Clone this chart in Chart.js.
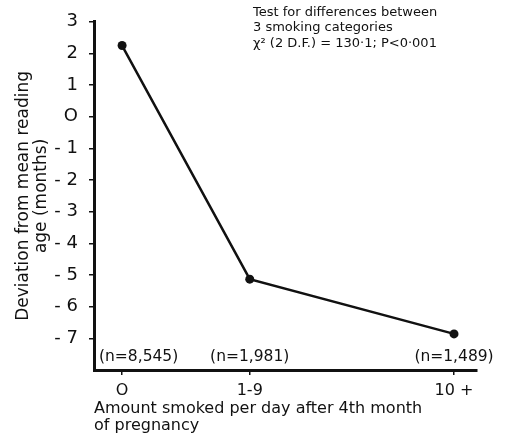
<!DOCTYPE html>
<html>
<head>
<meta charset="utf-8">
<script src="https://cdn.jsdelivr.net/npm/chart.js@4.4.1/dist/chart.umd.min.js"></script>
<style>
  html, body { margin: 0; padding: 0; background: #fff; }
  #wrap { width: 505px; height: 435px; }
</style>
</head>
<body>
<div id="wrap"><canvas id="chart"></canvas></div>
<script>
// Reading age deviation by amount smoked during pregnancy.
const categories = ['O', '1-9', '10 +'];
const categoryPositions = [0, 5, 13];
const deviations = [2.25, -5.13, -6.86];
const sampleSizes = ['(n=8,545)', '(n=1,981)', '(n=1,489)'];
const yTicks = [3, 2, 1, 0, -1, -2, -3, -4, -5, -6, -7];
const yTickLabels = ['3', '2', '1', 'O', '- 1', '- 2', '- 3', '- 4', '- 5', '- 6', '- 7'];
const noteLines = [
  'Test for differences between',
  '3 smoking categories',
  'χ² (2 D.F.) = 130·1; P<0·001'
];

const ink = '#111';
const family = '"DejaVu Sans", sans-serif';

const annotations = {
  id: 'annotations',
  afterDatasetsDraw(chart) {
    const { ctx, chartArea, scales } = chart;
    ctx.save();
    ctx.fillStyle = ink;
    ctx.textBaseline = 'middle';

    // sample sizes along the bottom of the plot
    ctx.font = '15.5px ' + family;
    ctx.textAlign = 'center';
    const yPix = scales.y.getPixelForValue(-7.6);
    sampleSizes.forEach((label, i) => {
      const w = ctx.measureText(label).width;
      let cx = scales.x.getPixelForValue(categoryPositions[i]);
      cx = Math.max(cx, chartArea.left + 5 + w / 2);
      ctx.fillText(label, cx, yPix);
    });

    // test statistic note at the top right
    ctx.textAlign = 'left';
    ctx.font = '13px ' + family;
    noteLines.forEach((line, i) => {
      ctx.fillText(line, 253, 12.5 + i * 15.5);
    });
    ctx.restore();
  }
};

new Chart(document.getElementById('chart'), {
  type: 'line',
  data: {
    datasets: [{
      data: categoryPositions.map((x, i) => ({ x, y: deviations[i] })),
      borderColor: ink,
      backgroundColor: ink,
      borderWidth: 2.5,
      pointRadius: 4.5,
      pointBackgroundColor: ink,
      pointBorderWidth: 0,
      tension: 0
    }]
  },
  options: {
    responsive: true,
    maintainAspectRatio: false,
    animation: false,
    events: [],
    layout: { padding: { top: 19, right: 28, left: 0, bottom: 0 } },
    plugins: {
      legend: { display: false },
      tooltip: { enabled: false }
    },
    scales: {
      x: {
        type: 'linear',
        min: -1.1,
        max: 13.9,
        afterBuildTicks(scale) {
          scale.ticks = categoryPositions.map(v => ({ value: v }));
        },
        afterFit(scale) { scale.height = 65; },
        border: { display: true, color: ink, width: 3 },
        grid: { drawOnChartArea: false, drawTicks: true, tickLength: 5, color: ink, lineWidth: 1.5 },
        ticks: {
          autoSkip: false,
          maxRotation: 0,
          padding: 6,
          color: ink,
          font: { family, size: 16 },
          callback: (v, i) => categories[i]
        },
        title: {
          display: true,
          align: 'start',
          text: ['Amount smoked per day after 4th month', 'of pregnancy'],
          color: ink,
          font: { family, size: 16, lineHeight: 1.05 },
          padding: { top: 0, bottom: 1 }
        }
      },
      y: {
        min: -8,
        max: 3,
        afterBuildTicks(scale) {
          scale.ticks = yTicks.map(v => ({ value: v }));
        },
        afterFit(scale) { scale.width = 94; },
        border: { display: true, color: ink, width: 3 },
        grid: { drawOnChartArea: false, drawTicks: true, tickLength: 5, color: ink, lineWidth: 1.5 },
        ticks: {
          autoSkip: false,
          padding: 11,
          color: ink,
          font: { family, size: 18 },
          callback: v => yTickLabels[yTicks.indexOf(v)]
        },
        title: {
          display: true,
          text: ['Deviation from mean reading', 'age (months)'],
          color: ink,
          font: { family, size: 17, lineHeight: 1.1 },
          padding: { top: 14, bottom: 0 }
        }
      }
    }
  },
  plugins: [annotations]
});
</script>
</body>
</html>
